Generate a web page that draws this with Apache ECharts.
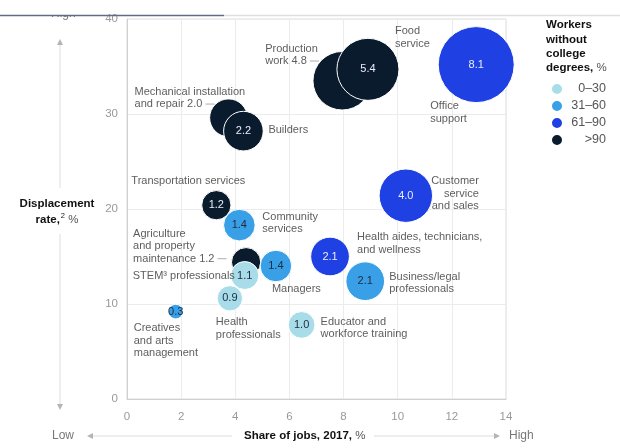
<!DOCTYPE html>
<html>
<head>
<meta charset="utf-8">
<script src="https://cdn.jsdelivr.net/npm/echarts@6/dist/echarts.min.js"></script>
<style>
    html, body {margin:0;padding:0;background:#ffffff;}
    #chart {width:620px;height:448px;}
</style>
</head>
<body>
<div id="chart"></div>
<script>
    // occupations, in draw order (later ones sit on top)
    var occupations = ['Production\nwork 4.8', 'Food\nservice', 'Office\nsupport', 'Mechanical installation\nand repair 2.0',
        'Builders', 'Transportation services', 'Community\nservices', 'Agriculture\nand property\nmaintenance 1.2',
        'STEM³ professionals', 'Managers', 'Health aides, technicians,\nand wellness', 'Customer\nservice\nand sales',
        'Business/legal\nprofessionals', 'Health\nprofessionals', 'Creatives\nand arts\nmanagement', 'Educator and\nworkforce training'];
    var jobShare = [7.95, 8.9, 12.9, 3.75, 4.3, 3.3, 4.15, 4.4, 4.35, 5.5, 7.5, 10.3, 8.8, 3.8, 1.8, 6.45];
    var displacement = [33.5, 34.7, 35.2, 29.6, 28.2, 20.4, 18.3, 14.4, 13.0, 14.0, 15.0, 21.4, 12.4, 10.6, 9.2, 7.8];
    var jobsMillions = [4.8, 5.4, 8.1, 2.0, 2.2, 1.2, 1.4, 1.2, 1.1, 1.4, 2.1, 4.0, 2.1, 0.9, 0.3, 1.0];
    // 0: 0-30, 1: 31-60, 2: 61-90, 3: >90
    var degreeBand = [3, 3, 2, 3, 3, 3, 1, 3, 0, 1, 2, 2, 1, 0, 1, 0];
    var valueInName = [true, false, false, true, false, false, false, true, false, false, false, false, false, false, false, false];
    var bandNames = ['0–30', '31–60', '61–90', '>90'];

    var bandColors = ['#a8dce9', '#39a0e8', '#1f40e2', '#0a1b2d'];
    var bandText = ['#1d2b3e', '#1d2b3e', '#e8eeff', '#e8eeff'];

    // where each name sits relative to its bubble centre [dx, dy, align]
    var nameSpots = [[-77, -26, 'left'], [27, -32, 'left'], [-46, 48, 'left'], [-94, -20, 'left'],
        [25, -1, 'left'], [-85, -24, 'left'], [23, -2, 'left'], [-113, -16, 'left'],
        [-112, 0, 'left'], [-4, 23, 'left'], [27, -13, 'left'], [73, -2, 'right'],
        [24, 2, 'left'], [-14, 30, 'left'], [-42, 29, 'left'], [19, 3, 'left']];

    var FONT = '"Liberation Sans", Arial, sans-serif';

    function bubbleSize(v) {
        return 26.7 * Math.sqrt(v);
    }

    var chart = echarts.init(document.getElementById('chart'));

    var series = [];
    // dark bands first so the light ones land on top
    [3, 2, 1, 0].forEach(function (b) {
        var pts = [];
        for (var i = 0; i < occupations.length; i++) {
            if (degreeBand[i] !== b) continue;
            pts.push({
                value: [jobShare[i], displacement[i], jobsMillions[i]],
                label: {show: !valueInName[i]}
            });
        }
        series.push({
            name: bandNames[b],
            type: 'scatter',
            data: pts,
            symbolSize: function (d) { return bubbleSize(d[2]); },
            itemStyle: {color: bandColors[b], opacity: 1, borderColor: '#ffffff', borderWidth: 1},
            label: {
                position: 'inside',
                formatter: function (p) { return p.value[2].toFixed(1); },
                color: bandText[b],
                fontFamily: FONT,
                fontSize: 11
            },
            emphasis: {disabled: true}
        });
    });

    var nameData = [];
    for (var i = 0; i < occupations.length; i++) {
        var lines = occupations[i].split('\n');
        var txt = lines.map(function (s) { return '{t|' + s + '}'; }).join('\n');
        if (valueInName[i]) txt += '{t| }{l| }';
        nameData.push({
            value: [jobShare[i], displacement[i]],
            label: {
                formatter: txt,
                offset: [nameSpots[i][0], nameSpots[i][1]],
                align: nameSpots[i][2]
            }
        });
    }
    series.push({
        name: 'names',
        type: 'scatter',
        data: nameData,
        symbolSize: 0,
        silent: true,
        z: 5,
        label: {
            show: true,
            position: 'inside',
            verticalAlign: 'middle',
            rich: {
                t: {fontFamily: FONT, fontSize: 11, color: '#333333', lineHeight: 12.5},
                l: {width: 9, height: 1, backgroundColor: '#9a9a9a', lineHeight: 12.5}
            }
        }
    });

    var option = {
        animation: false,
        grid: {left: 127, right: 114, top: 19, bottom: 49, show: true, borderColor: '#dcdcdc', borderWidth: 1},
        xAxis: {
            type: 'value', min: 0, max: 14, interval: 2,
            axisLine: {show: true, lineStyle: {color: '#d0d0d0'}},
            axisTick: {show: false},
            splitLine: {lineStyle: {color: '#ececec'}},
            axisLabel: {color: '#999999', fontFamily: FONT, fontSize: 11.5, margin: 12}
        },
        yAxis: {
            type: 'value', min: 0, max: 40, interval: 10,
            axisLine: {show: true, lineStyle: {color: '#d0d0d0'}},
            axisTick: {show: false},
            splitLine: {lineStyle: {color: '#ececec'}},
            axisLabel: {color: '#999999', fontFamily: FONT, fontSize: 11.5, margin: 9}
        },
        legend: {
            data: bandNames,
            orient: 'vertical',
            left: 545, top: 77,
            itemWidth: 12, itemHeight: 12, itemGap: 3,
            icon: 'circle',
            selectedMode: false,
            formatter: function (n) { return '{r|' + n + '}'; },
            textStyle: {
                color: '#555555', fontFamily: FONT, fontSize: 12.5,
                rich: {r: {width: 38, align: 'right', color: '#555555', fontFamily: FONT, fontSize: 12.5}}
            }
        },
        graphic: [
            // page rule across the top
            {type: 'text', left: 51, top: 8, z: 1, style: {text: 'High', font: '12px ' + FONT, fill: '#777777'}},
            {type: 'rect', shape: {x: 40, y: 0, width: 50, height: 15}, z: 2, style: {fill: '#ffffff'}},
            {type: 'line', shape: {x1: 0, y1: 15.5, x2: 224, y2: 15.5}, z: 3, style: {stroke: '#5f6d86', lineWidth: 1.5}},
            {type: 'line', shape: {x1: 224, y1: 15.5, x2: 620, y2: 15.5}, z: 3, style: {stroke: '#dddddd', lineWidth: 1.5}},
            // vertical low/high arrow
            {type: 'polygon', shape: {points: [[57, 45], [63, 45], [60, 39]]}, style: {fill: '#b5b5b5'}},
            {type: 'line', shape: {x1: 60, y1: 45, x2: 60, y2: 188}, style: {stroke: '#dddddd', lineWidth: 1}},
            {type: 'line', shape: {x1: 60, y1: 234, x2: 60, y2: 404}, style: {stroke: '#dddddd', lineWidth: 1}},
            {type: 'polygon', shape: {points: [[57, 404], [63, 404], [60, 410]]}, style: {fill: '#b5b5b5'}},
            {
                type: 'text', x: 57, y: 212,
                style: {
                    text: '{b|Displacement}\n{b|rate,}{s|2}{n| %}',
                    align: 'center', verticalAlign: 'middle',
                    rich: {
                        b: {font: 'bold 11.5px ' + FONT, fill: '#111111', lineHeight: 16},
                        s: {font: '7.5px ' + FONT, fill: '#111111', verticalAlign: 'top', padding: [0, 0, 5, 1]},
                        n: {font: '11.5px ' + FONT, fill: '#555555', lineHeight: 16}
                    }
                }
            },
            // horizontal low/high arrow
            {type: 'text', x: 63, y: 436, style: {text: 'Low', font: '12px ' + FONT, fill: '#777777', align: 'center', verticalAlign: 'middle'}},
            {type: 'polygon', shape: {points: [[93, 433], [93, 439], [87, 436]]}, style: {fill: '#b5b5b5'}},
            {type: 'line', shape: {x1: 93, y1: 436, x2: 232, y2: 436}, style: {stroke: '#dddddd', lineWidth: 1}},
            {
                type: 'text', x: 244, y: 436,
                style: {
                    text: '{b|Share of jobs, 2017,}{n| %}',
                    verticalAlign: 'middle',
                    rich: {
                        b: {font: 'bold 11.5px ' + FONT, fill: '#111111'},
                        n: {font: '11.5px ' + FONT, fill: '#555555'}
                    }
                }
            },
            {type: 'line', shape: {x1: 374, y1: 436, x2: 494, y2: 436}, style: {stroke: '#dddddd', lineWidth: 1}},
            {type: 'polygon', shape: {points: [[494, 433], [494, 439], [500, 436]]}, style: {fill: '#b5b5b5'}},
            {type: 'text', x: 509, y: 436, style: {text: 'High', font: '12px ' + FONT, fill: '#777777', verticalAlign: 'middle'}},
            // legend title
            {
                type: 'text', x: 546, y: 18,
                style: {
                    text: '{b|Workers}\n{b|without}\n{b|college}\n{b|degrees,}{n| %}',
                    rich: {
                        b: {font: 'bold 11.5px ' + FONT, fill: '#111111', lineHeight: 14.3},
                        n: {font: '11.5px ' + FONT, fill: '#555555', lineHeight: 14.3}
                    }
                }
            }
        ],
        series: series
    };
    chart.setOption(option);
</script>
</body>
</html>
